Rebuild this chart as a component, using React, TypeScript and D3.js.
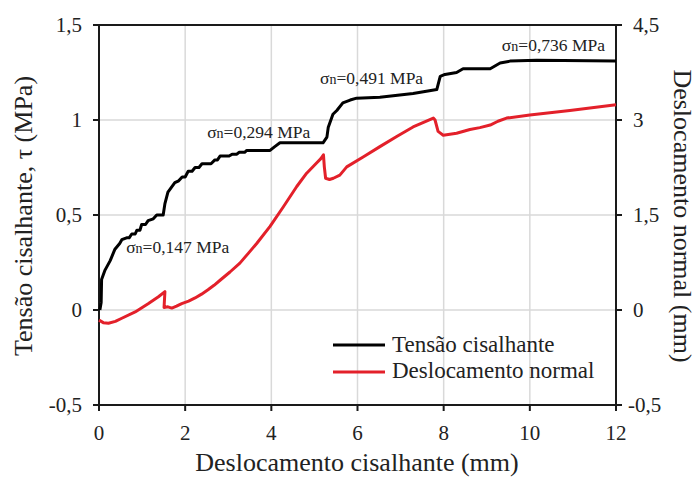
import React from 'react'
import * as d3 from 'd3'

// shear stress vs. shear displacement, normal displacement on a second axis

const shearX = [0.02, 0.05, 0.06, 0.14, 0.26, 0.37, 0.48, 0.53, 0.64, 0.7, 0.76, 0.84, 0.88, 0.95, 0.99, 1.08, 1.14, 1.26, 1.34, 1.49, 1.53, 1.6, 1.76, 1.85, 1.93, 2.0, 2.07, 2.16, 2.23, 2.32, 2.39, 2.6, 2.69, 2.75, 2.81, 3.02, 3.09, 3.2, 3.25, 3.38, 3.43, 3.97, 4.08, 4.2, 5.2, 5.29, 5.32, 5.43, 5.52, 5.66, 5.83, 5.98, 6.52, 7.29, 7.84, 7.92, 8.03, 8.3, 8.45, 9.08, 9.31, 9.54, 10.16, 12.0]
const shearTau = [0.0, 0.04, 0.16, 0.21, 0.26, 0.32, 0.35, 0.37, 0.38, 0.38, 0.4, 0.4, 0.42, 0.42, 0.45, 0.45, 0.47, 0.48, 0.5, 0.5, 0.56, 0.62, 0.67, 0.68, 0.7, 0.7, 0.73, 0.73, 0.75, 0.75, 0.77, 0.77, 0.79, 0.79, 0.81, 0.81, 0.82, 0.82, 0.83, 0.83, 0.84, 0.84, 0.86, 0.88, 0.88, 0.91, 0.96, 1.03, 1.05, 1.09, 1.105, 1.115, 1.12, 1.14, 1.16, 1.23, 1.24, 1.25, 1.27, 1.27, 1.3, 1.31, 1.315, 1.31]

const normalX = [0.0, 0.1, 0.22, 0.38, 0.53, 0.84, 1.14, 1.38, 1.53, 1.51, 1.6, 1.69, 1.8, 1.92, 2.08, 2.23, 2.38, 2.53, 2.67, 2.81, 3.04, 3.27, 3.46, 3.66, 3.97, 4.28, 4.59, 4.82, 5.05, 5.15, 5.21, 5.23, 5.26, 5.35, 5.44, 5.59, 5.75, 6.14, 6.52, 6.91, 7.29, 7.56, 7.76, 7.8, 7.87, 7.99, 8.3, 8.61, 8.84, 9.08, 9.26, 9.46, 10.0, 10.93, 12.0]
const normalDisp = [-0.16, -0.2, -0.21, -0.18, -0.13, -0.03, 0.1, 0.21, 0.29, 0.04, 0.05, 0.03, 0.06, 0.1, 0.14, 0.19, 0.25, 0.32, 0.39, 0.47, 0.6, 0.74, 0.89, 1.05, 1.32, 1.63, 1.95, 2.16, 2.32, 2.39, 2.45, 2.26, 2.08, 2.06, 2.08, 2.13, 2.26, 2.42, 2.58, 2.74, 2.89, 2.97, 3.03, 3.0, 2.82, 2.76, 2.79, 2.85, 2.88, 2.92, 2.98, 3.03, 3.08, 3.15, 3.24]

const xTicks = [0, 2, 4, 6, 8, 10, 12]
const leftTicks = [-0.5, 0, 0.5, 1, 1.5]
const leftTickLabels = ['-0,5', '0', '0,5', '1', '1,5']
const rightTicks = [-1.5, 0, 1.5, 3, 4.5]
const rightTickLabels = ['-0,5', '0', '1,5', '3', '4,5']

const stressLabels = ['0,147 MPa', '0,294 MPa', '0,491 MPa', '0,736 MPa']
const labelX = [0.63, 2.51, 5.13, 9.35]
const labelTau = [0.3, 0.905, 1.19, 1.365]

const legendNames = ['Tensão cisalhante', 'Deslocamento normal']

const W = 697
const H = 477
const margin = { top: 25, right: 81, bottom: 72, left: 99 }
const font = '"Liberation Serif", "Times New Roman", serif'
const red = '#e3202a'

export default function App() {
  const x = d3.scaleLinear().domain([0, 12]).range([margin.left, W - margin.right])
  const yL = d3.scaleLinear().domain([-0.5, 1.5]).range([H - margin.bottom, margin.top])
  const yR = d3.scaleLinear().domain([-1.5, 4.5]).range([H - margin.bottom, margin.top])

  const shearLine = d3.line<number>()
    .x((d, i) => x(shearX[i]))
    .y(d => yL(d))
  const normalLine = d3.line<number>()
    .x((d, i) => x(normalX[i]))
    .y(d => yR(d))

  const x0 = margin.left
  const x1 = W - margin.right
  const y0 = margin.top
  const y1 = H - margin.bottom

  return (
    <svg width={W} height={H} style={{ position: 'absolute', left: 0, top: 0, background: '#fff' }} fontFamily={font}>
      {/* grid */}
      {xTicks.slice(1, -1).map(t => (
        <line key={'gx' + t} x1={x(t)} x2={x(t)} y1={y0} y2={y1} stroke="#d9d9d9" strokeWidth={1.5} />
      ))}
      {leftTicks.slice(1, -1).map(t => (
        <line key={'gy' + t} x1={x0} x2={x1} y1={yL(t)} y2={yL(t)} stroke="#d9d9d9" strokeWidth={1.5} />
      ))}

      {/* frame */}
      <rect x={x0} y={y0} width={x1 - x0} height={y1 - y0} fill="none" stroke="#1a1a1a" strokeWidth={2} />

      {/* x ticks */}
      {xTicks.map(t => (
        <g key={'xt' + t}>
          <line x1={x(t)} x2={x(t)} y1={y1} y2={y1 + 6} stroke="#1a1a1a" strokeWidth={2} />
          <text x={x(t)} y={y1 + 35} textAnchor="middle" fontSize={21} fill="#222">{t}</text>
        </g>
      ))}
      {/* left ticks */}
      {leftTicks.map((t, i) => (
        <g key={'lt' + t}>
          <line x1={x0 - 6} x2={x0} y1={yL(t)} y2={yL(t)} stroke="#1a1a1a" strokeWidth={2} />
          <text x={x0 - 17} y={yL(t)} dy="0.35em" textAnchor="end" fontSize={21} fill="#222">{leftTickLabels[i]}</text>
        </g>
      ))}
      {/* right ticks */}
      {rightTicks.map((t, i) => (
        <g key={'rt' + t}>
          <line x1={x1} x2={x1 + 6} y1={yR(t)} y2={yR(t)} stroke="#1a1a1a" strokeWidth={2} />
          <text x={x1 + (i === 0 ? 12 : 17)} y={yR(t)} dy="0.35em" textAnchor="start" fontSize={21} fill="#222">{rightTickLabels[i]}</text>
        </g>
      ))}

      {/* axis titles */}
      <text x={357} y={471} textAnchor="middle" fontSize={26} fill="#222">Deslocamento cisalhante (mm)</text>
      <text transform={`translate(32, 216) rotate(-90)`} textAnchor="middle" fontSize={26} fill="#222">Tensão cisalhante, τ (MPa)</text>
      <text transform={`translate(674, 216) rotate(90)`} textAnchor="middle" fontSize={26} fill="#222">Deslocamento normal (mm)</text>

      {/* series */}
      <path d={normalLine(normalDisp) || ''} fill="none" stroke={red} strokeWidth={3} strokeLinejoin="round" />
      <path d={shearLine(shearTau) || ''} fill="none" stroke="#000" strokeWidth={3} strokeLinejoin="round" />

      {/* normal stress labels */}
      {stressLabels.map((s, i) => (
        <text key={s} x={x(labelX[i])} y={yL(labelTau[i])} fontSize={17.5} fill="#222">
          σ<tspan fontSize={14}>n</tspan>={s}
        </text>
      ))}

      {/* legend */}
      {legendNames.map((n, i) => (
        <g key={n}>
          <line x1={333} x2={385} y1={345 + i * 27} y2={345 + i * 27} stroke={i === 0 ? '#000' : red} strokeWidth={3} />
          <text x={392} y={352 + i * 26} fontSize={23} fill="#222">{n}</text>
        </g>
      ))}
    </svg>
  )
}
